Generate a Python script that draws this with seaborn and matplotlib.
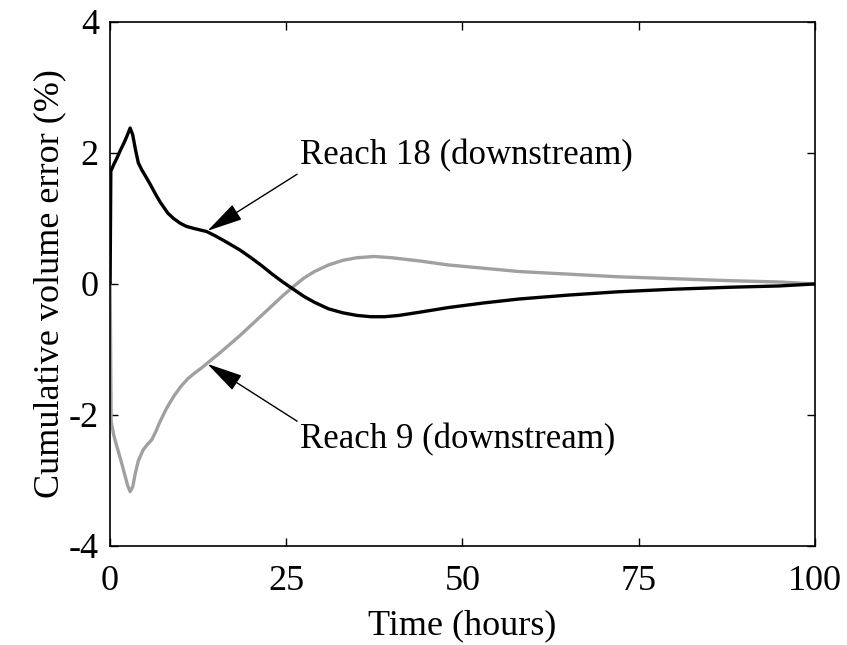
import matplotlib
matplotlib.use("Agg")
import matplotlib.pyplot as plt
import seaborn as sns
import pandas as pd

# Reach 18 (downstream) - black
x_r18 = [0, 0.1, 0.5, 1.0, 1.5, 2.0, 2.4, 2.84, 3.2, 3.6, 4.0, 4.5, 5.0, 5.7, 6.4, 7.1, 8.2, 9.0,
         9.9, 10.8, 11.8, 13.7, 15, 16.5, 18.4, 20, 21.5, 23, 24.5, 26, 27.5, 29, 31, 33, 35, 37,
         39, 41, 44, 48, 53, 58, 65, 72, 80, 88, 95, 100]
y_r18 = [0, 1.72, 1.82, 1.93, 2.05, 2.16, 2.26, 2.38, 2.28, 2.05, 1.85, 1.74, 1.65, 1.52, 1.38,
         1.25, 1.08, 1.0, 0.93, 0.88, 0.85, 0.80, 0.73, 0.64, 0.52, 0.40, 0.28, 0.15, 0.03,
         -0.08, -0.19, -0.28, -0.38, -0.44, -0.48, -0.50, -0.50, -0.48, -0.43, -0.36, -0.29,
         -0.23, -0.17, -0.12, -0.08, -0.05, -0.03, 0]

# Reach 9 (downstream) - grey
x_r9 = [0, 0.15, 0.5, 0.95, 1.5, 2.0, 2.5, 2.84, 3.2, 3.6, 4.0, 4.7, 5.3, 5.9, 6.5, 7.0, 8.0, 9.0,
        10.0, 11.0, 12.0, 13.0, 14.0, 15.6, 17, 18.5, 20, 21.5, 23, 24.5, 26, 27.5, 29, 31, 33,
        35, 37.5, 40, 44, 48, 53, 58, 65, 72, 80, 88, 95, 100]
y_r9 = [0, -2.1, -2.3, -2.48, -2.68, -2.88, -3.08, -3.17, -3.1, -2.88, -2.7, -2.53, -2.45,
        -2.38, -2.25, -2.12, -1.90, -1.72, -1.57, -1.45, -1.36, -1.28, -1.19, -1.05, -0.92,
        -0.78, -0.63, -0.48, -0.33, -0.18, -0.04, 0.09, 0.19, 0.29, 0.36, 0.40, 0.42, 0.40,
        0.35, 0.29, 0.24, 0.19, 0.15, 0.11, 0.08, 0.05, 0.03, 0]

x_ticks = [0, 25, 50, 75, 100]
y_ticks = [-4, -2, 0, 2, 4]
labels = ["Reach 18 (downstream)", "Reach 9 (downstream)"]

sns.set_style("ticks")
plt.rcParams["font.family"] = ["Liberation Serif", "DejaVu Serif"]
plt.rcParams["text.color"] = "black"
plt.rcParams["axes.labelcolor"] = "black"
plt.rcParams["xtick.color"] = "black"
plt.rcParams["ytick.color"] = "black"

fig = plt.figure(figsize=(8.47, 6.45), dpi=100)
ax = fig.add_axes([0.130, 0.1535, 0.832, 0.8125])

df18 = pd.DataFrame({"t": x_r18, "v": y_r18})
df9 = pd.DataFrame({"t": x_r9, "v": y_r9})
sns.lineplot(data=df9, x="t", y="v", ax=ax, color="#a0a0a0", lw=2.4, sort=False, estimator=None)
sns.lineplot(data=df18, x="t", y="v", ax=ax, color="black", lw=2.4, sort=False, estimator=None)

ax.set_xlim(0, 100)
ax.set_ylim(-4, 4)
ax.set_xticks(x_ticks)
ax.set_yticks(y_ticks)
ax.set_xticklabels([str(v) for v in x_ticks])
ax.set_yticklabels([str(v) for v in y_ticks])
ax.tick_params(direction="in", length=6, width=1, top=True, right=True,
               labelsize=26, pad=8, colors="black")
ax.tick_params(axis="x", pad=14)
for s in ax.spines.values():
    s.set_linewidth(1.2)
    s.set_color("black")

ax.set_xlabel("Time (hours)", fontsize=26, labelpad=8)
ax.set_ylabel("Cumulative volume error (%)", fontsize=26, labelpad=2)

astyle = "-|>,head_width=0.22,head_length=0.9"
ax.annotate(labels[0], xy=(13.8, 0.81), xytext=(27.0, 1.96), fontsize=25,
            va="center", ha="left",
            arrowprops=dict(arrowstyle=astyle, color="black", lw=1.0, mutation_scale=25,
                            shrinkA=0, shrinkB=0, relpos=(0, 0)))
ax.annotate(labels[1], xy=(13.8, -1.22), xytext=(27.0, -2.38), fontsize=25,
            va="center", ha="left",
            arrowprops=dict(arrowstyle=astyle, color="black", lw=1.0, mutation_scale=25,
                            shrinkA=0, shrinkB=0, relpos=(0, 1)))

fig.savefig("out.png", dpi=100)
